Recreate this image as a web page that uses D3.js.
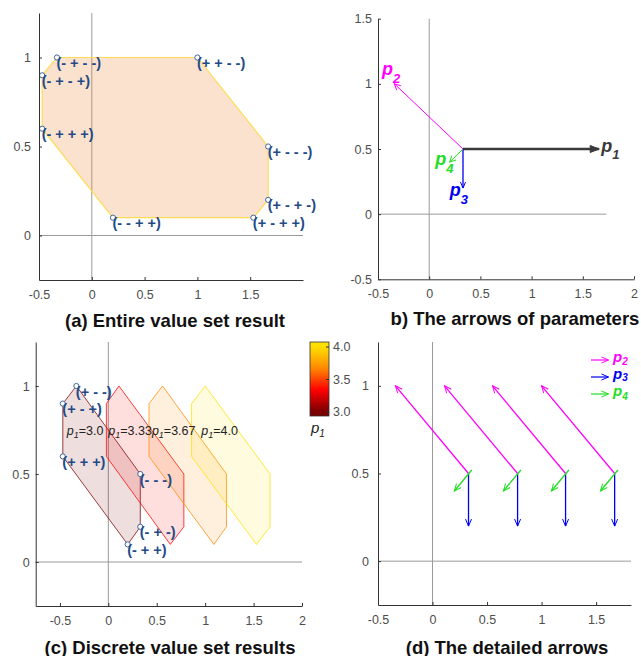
<!DOCTYPE html>
<html lang="en">
<head>
<meta charset="UTF-8">
<title>value set results</title>
<script src="https://cdn.jsdelivr.net/npm/d3@7"></script>
<style>
    body { margin: 0; background: #fff; }
    svg { display: block; font-family: "Liberation Sans", Arial, sans-serif; }
    .axis path, .axis line { stroke: #333; }
    .axis text { fill: #4d4d4d; font-size: 12.5px; font-family: "Liberation Sans", Arial, sans-serif; }
    .zero { stroke: #9a9a9a; stroke-width: 1; }
    .title { font-weight: bold; font-size: 18.5px; fill: #111; text-anchor: middle; }
    .vlabel { font-weight: bold; font-size: 14.5px; fill: #234a86; }
</style>
</head>
<body>
<svg id="fig" width="641" height="656"></svg>
<script>
    // ---- data ----
    // (a) entire value set: octagon vertices
    const vertA_x = [-0.33, 1.0, 1.67, 1.67, 1.53, 0.2, -0.47, -0.47];
    const vertA_y = [1.0, 1.0, 0.5, 0.2, 0.1, 0.1, 0.6, 0.9];
    const vertA_labels = ["(- + - -)", "(+ + - -)", "(+ - - -)", "(+ - + -)",
        "(+ - + +)", "(- - + +)", "(- + + +)", "(- + - +)"];

    // (b) parameter arrows, all from one origin
    const arrowSubs = ["1", "2", "3", "4"];
    const arrowColors = ["#3a3a3a", "#ff00ff", "#0000f0", "#22dd22"];
    const originB = [0.33, 0.5];
    const arrowDx = [1.33, -0.67, 0, -0.13];
    const arrowDy = [0, 0.5, -0.3, -0.1];
    const bLabelX = [1.68, -0.46, 0.20, 0.06];
    const bLabelY = [0.48, 1.065, 0.138, 0.375];

    // (c) discrete value sets, one hexagon per p1
    const p1Values = [3.0, 3.33, 3.67, 4.0];
    const p1Text = ["3.0", "3.33", "3.67", "4.0"];
    const hexX = [
        [-0.33, 0.33, 0.33, 0.2, -0.47, -0.47],
        [0.11, 0.78, 0.78, 0.64, -0.02, -0.02],
        [0.56, 1.22, 1.22, 1.09, 0.42, 0.42],
        [1.0, 1.67, 1.67, 1.53, 0.86, 0.86]
    ];
    const hexY = [1.0, 0.5, 0.2, 0.1, 0.6, 0.9];
    const hexLabels = ["(+ - -)", "(- - -)", "(- + -)", "(- + +)", "(+ + +)", "(+ - +)"];
    const p1LabelX = [-0.43, 0.0, 0.45, 0.96];
    const p1LabelY = 0.72;
    const cmapStops = [3.0, 3.33, 3.67, 4.0];
    const cmapColors = ["#7a0000", "#ff0000", "#ff8a00", "#ffe000"];
    const cbTicks = [3.0, 3.5, 4.0];

    // (d) detailed arrows at each p1 origin
    const dOriginX = [0.33, 0.78, 1.22, 1.67];
    const dOriginY = 0.5;
    const dP2 = [-0.67, 0.5];
    const dP3 = [0, -0.3];
    const dP4tail = [0.03, 0.02];
    const dP4 = [-0.13, -0.1];

    // ---- panels ----
    const panels = {
        a: { left: 39, right: 303, top: 13, bottom: 280, xd: [-0.5, 2], yd: [-0.25, 1.25],
             xt: [-0.5, 0, 0.5, 1, 1.5], yt: [0, 0.5, 1], zeroEnd: 2, padY: 8 },
        b: { left: 378, right: 634, top: 18.7, bottom: 279.3, xd: [-0.5, 2], yd: [-0.5, 1.5],
             xt: [-0.5, 0, 0.5, 1, 1.5, 2], yt: [-0.5, 0, 0.5, 1, 1.5], zeroEnd: 1.73, padY: 6 },
        c: { left: 35.7, right: 302, top: 342, bottom: 606, xd: [-0.75, 2], yd: [-0.25, 1.25],
             xt: [-0.5, 0, 0.5, 1, 1.5, 2], yt: [0, 0.5, 1], zeroEnd: 2, padY: 6 },
        d: { left: 378, right: 631, top: 342, bottom: 605, xd: [-0.5, 1.82], yd: [-0.25, 1.25],
             xt: [-0.5, 0, 0.5, 1, 1.5], yt: [0, 0.5, 1], zeroEnd: 1.82, padY: 9 }
    };

    const svg = d3.select("#fig");
    const defs = svg.append("defs");

    function addMarker(id, color, len, half, filled) {
        defs.append("marker")
            .attr("id", id)
            .attr("markerUnits", "userSpaceOnUse")
            .attr("viewBox", `-1 ${-half - 1} ${len + 2} ${2 * half + 2}`)
            .attr("markerWidth", len + 2)
            .attr("markerHeight", 2 * half + 2)
            .attr("refX", len)
            .attr("refY", 0)
            .attr("orient", "auto")
            .append("path")
            .attr("d", `M0,${-half}L${len},0L0,${half}` + (filled ? "Z" : ""))
            .attr("fill", filled ? color : "none")
            .attr("stroke", color)
            .attr("stroke-width", 1);
    }

    function setup(p) {
        const x = d3.scaleLinear().domain(p.xd).range([p.left, p.right]);
        const y = d3.scaleLinear().domain(p.yd).range([p.bottom, p.top]);
        const g = svg.append("g");
        g.append("line").attr("class", "zero")
            .attr("x1", x(0)).attr("x2", x(0))
            .attr("y1", y(p.yd[0])).attr("y2", y(p.yd[1]));
        g.append("line").attr("class", "zero")
            .attr("x1", x(p.xd[0])).attr("x2", x(p.zeroEnd))
            .attr("y1", y(0)).attr("y2", y(0));
        return { x, y, g };
    }

    function drawAxes(p, s) {
        s.g.append("g").attr("class", "axis")
            .attr("transform", `translate(0,${p.bottom})`)
            .call(d3.axisBottom(s.x).tickValues(p.xt).tickFormat(d => String(d))
                .tickSizeInner(-3).tickSizeOuter(0).tickPadding(10));
        s.g.append("g").attr("class", "axis")
            .attr("transform", `translate(${p.left},0)`)
            .call(d3.axisLeft(s.y).tickValues(p.yt).tickFormat(d => String(d))
                .tickSizeInner(-3).tickSizeOuter(0).tickPadding(p.padY));
    }

    function subLabel(g, x, y, main, sub, o) {
        const t = g.append("text").attr("x", x).attr("y", y)
            .attr("fill", o.color)
            .style("font-size", o.size + "px")
            .style("font-weight", o.weight || "bold")
            .style("font-style", "italic");
        t.append("tspan").text(main);
        t.append("tspan").attr("dy", o.dy).style("font-size", o.subSize + "px").text(sub);
        return t;
    }

    function vertexMarks(s, xs, ys, labels) {
        s.g.selectAll(null).data(labels).join("circle")
            .attr("cx", (d, i) => s.x(xs[i])).attr("cy", (d, i) => s.y(ys[i]))
            .attr("r", 2.6).attr("fill", "#fff")
            .attr("stroke", "#3e66a3").attr("stroke-width", 1);
        s.g.selectAll(null).data(labels).join("text")
            .attr("class", "vlabel")
            .attr("x", (d, i) => s.x(xs[i]) - 0.5)
            .attr("y", (d, i) => s.y(ys[i]) + 10.5)
            .text(d => d);
    }

    // ---- (a) ----
    const A = setup(panels.a);
    A.g.append("polygon")
        .attr("points", vertA_x.map((v, i) => [A.x(v), A.y(vertA_y[i])].join(",")).join(" "))
        .attr("fill", "#f08a3c").attr("fill-opacity", 0.25)
        .attr("stroke", "#ffdc55").attr("stroke-width", 1.2);
    vertexMarks(A, vertA_x, vertA_y, vertA_labels);
    drawAxes(panels.a, A);
    svg.append("text").attr("class", "title").attr("x", 175).attr("y", 326.5)
        .text("(a) Entire value set result");

    // ---- (b) ----
    const B = setup(panels.b);
    const bHead = [[9, 3.5, true], [6, 3, false], [6, 2.5, false], [6, 3, false]];
    const bWidth = [2.4, 1, 1.3, 1];
    arrowSubs.forEach((s, i) => addMarker("hb" + i, arrowColors[i], bHead[i][0], bHead[i][1], bHead[i][2]));
    arrowSubs.forEach((s, i) => {
        B.g.append("line")
            .attr("x1", B.x(originB[0])).attr("y1", B.y(originB[1]))
            .attr("x2", B.x(originB[0] + arrowDx[i])).attr("y2", B.y(originB[1] + arrowDy[i]))
            .attr("stroke", arrowColors[i]).attr("stroke-width", bWidth[i])
            .attr("marker-end", `url(#hb${i})`);
        subLabel(B.g, B.x(bLabelX[i]), B.y(bLabelY[i]), "p", s,
            { color: arrowColors[i], size: 18, subSize: 13, dy: 7.5 });
    });
    drawAxes(panels.b, B);
    svg.append("text").attr("class", "title").attr("x", 515).attr("y", 325)
        .text("b) The arrows of parameters");

    // ---- (c) ----
    const C = setup(panels.c);
    const cmap = d3.scaleLinear().domain(cmapStops).range(cmapColors).clamp(true);
    p1Values.forEach((v, k) => {
        C.g.append("polygon")
            .attr("points", hexX[k].map((xv, i) => [C.x(xv), C.y(hexY[i])].join(",")).join(" "))
            .attr("fill", cmap(v)).attr("fill-opacity", 0.13)
            .attr("stroke", cmap(v)).attr("stroke-opacity", 0.75).attr("stroke-width", 1);
    });
    p1Values.forEach((v, k) => {
        const t = subLabel(C.g, C.x(p1LabelX[k]), C.y(p1LabelY), "p", "1",
            { color: "#222", size: 12.5, subSize: 9, dy: 3, weight: "normal" });
        t.append("tspan").attr("dy", -3).style("font-style", "normal").text("=" + p1Text[k]);
    });
    vertexMarks(C, hexX[0], hexY, hexLabels);
    drawAxes(panels.c, C);
    svg.append("text").attr("class", "title").attr("x", 170).attr("y", 653.5)
        .text("(c) Discrete value set results");

    // colorbar
    const cb = { x: 310, w: 19, top: 342, bottom: 416 };
    const cbY = d3.scaleLinear().domain([2.93, 4.07]).range([cb.bottom, cb.top]);
    const grad = defs.append("linearGradient").attr("id", "cbgrad")
        .attr("x1", 0).attr("x2", 0).attr("y1", 1).attr("y2", 0);
    d3.range(0, 1.0001, 0.05).forEach(t => {
        grad.append("stop").attr("offset", t).attr("stop-color", cmap(cbY.invert(cb.bottom - t * (cb.bottom - cb.top))));
    });
    svg.append("rect").attr("x", cb.x).attr("y", cb.top).attr("width", cb.w)
        .attr("height", cb.bottom - cb.top).attr("fill", "url(#cbgrad)")
        .attr("stroke", "#333").attr("stroke-width", 0.8);
    const cbAxis = svg.append("g").attr("class", "axis")
        .attr("transform", `translate(${cb.x + cb.w},0)`)
        .call(d3.axisRight(cbY).tickValues(cbTicks).tickFormat(d3.format(".1f"))
            .tickSizeInner(-3).tickSizeOuter(0).tickPadding(4));
    cbAxis.select(".domain").remove();
    subLabel(svg, 311, 433, "p", "1", { color: "#222", size: 15, subSize: 10, dy: 4, weight: "normal" });

    // ---- (d) ----
    const D = setup(panels.d);
    const dColors = ["#ff00ff", "#0000f0", "#22dd22"];
    dColors.forEach((c, i) => addMarker("hd" + i, c, 7, 3, false));
    dOriginX.forEach(x0 => {
        const segs = [
            [x0, dOriginY, x0 + dP2[0], dOriginY + dP2[1]],
            [x0, dOriginY, x0 + dP3[0], dOriginY + dP3[1]],
            [x0 + dP4tail[0], dOriginY + dP4tail[1], x0 + dP4[0], dOriginY + dP4[1]]
        ];
        segs.forEach((sg, i) => {
            D.g.append("line")
                .attr("x1", D.x(sg[0])).attr("y1", D.y(sg[1]))
                .attr("x2", D.x(sg[2])).attr("y2", D.y(sg[3]))
                .attr("stroke", dColors[i]).attr("stroke-width", 1.3)
                .attr("marker-end", `url(#hd${i})`);
        });
    });
    // legend
    const legSubs = ["2", "3", "4"];
    const legY = [360, 377, 394];
    const legSubDy = [3, 2, 4];
    legSubs.forEach((s, i) => {
        D.g.append("line").attr("x1", 591).attr("x2", 608.5)
            .attr("y1", legY[i]).attr("y2", legY[i])
            .attr("stroke", dColors[i]).attr("stroke-width", 1.2)
            .attr("marker-end", `url(#hd${i})`);
        subLabel(D.g, 613, legY[i] + 2, "p", s,
            { color: dColors[i], size: 15, subSize: 10, dy: legSubDy[i] });
    });
    drawAxes(panels.d, D);
    svg.append("text").attr("class", "title").attr("x", 507).attr("y", 653.5)
        .text("(d) The detailed arrows");
</script>
</body>
</html>
